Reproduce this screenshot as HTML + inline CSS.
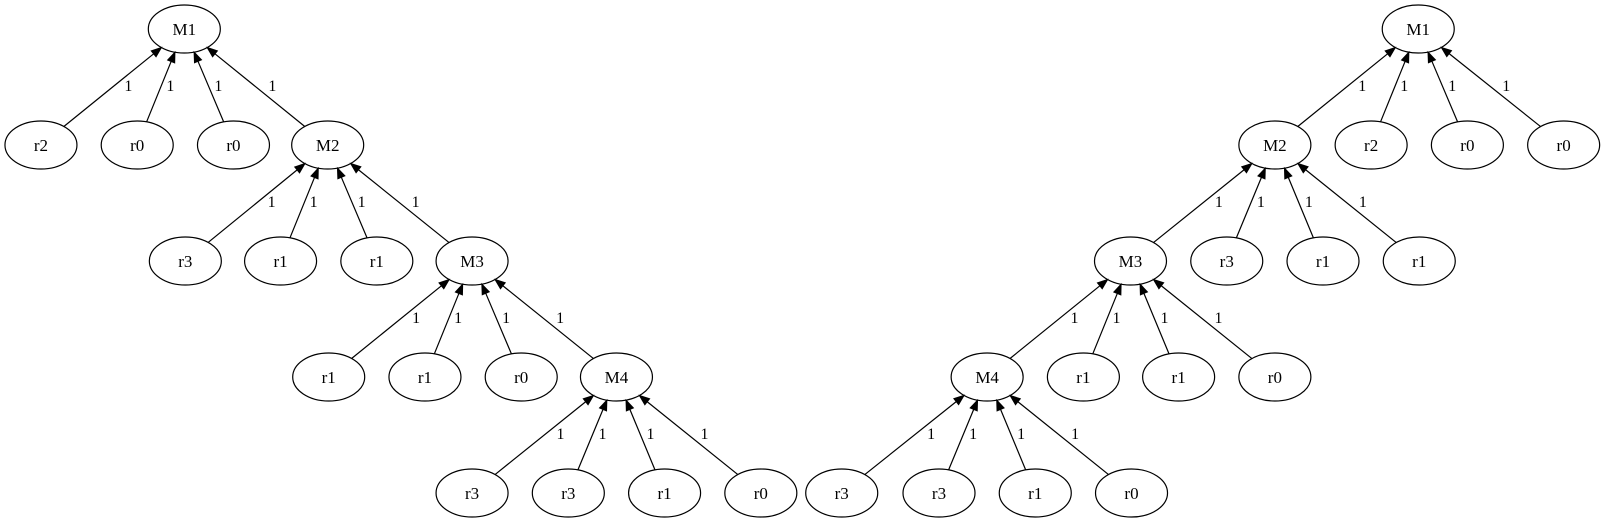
<!DOCTYPE html>
<html><head><meta charset="utf-8"><style>
html,body{margin:0;padding:0;background:#fff;}
svg{display:block}
text{font-family:"Liberation Serif",serif;}
</style></head><body>
<svg id="g" width="1606" height="523" viewBox="0 0 1606 523" xmlns="http://www.w3.org/2000/svg"></svg>
<script>
var s=1.024, RX=36, RY=24;
var ys=[29,145,261,377,493];
function X(v){return v*s;}
var nodes=[];
var L=[
 [0,180,[[40,'r2'],[134,'r0'],[228,'r0'],[320,'M2']],'M1'],
 [1,320,[[181,'r3'],[274,'r1'],[368,'r1'],[461,'M3']]],
 [2,461,[[321,'r1'],[415,'r1'],[509,'r0'],[602,'M4']]],
 [3,602,[[461,'r3'],[555,'r3'],[649,'r1'],[743,'r0']]],
 [0,1385,[[1245,'M2'],[1339,'r2'],[1433,'r0'],[1527,'r0']],'M1'],
 [1,1245,[[1104,'M3'],[1198,'r3'],[1292,'r1'],[1386,'r1']]],
 [2,1104,[[964,'M4'],[1058,'r1'],[1151,'r1'],[1245,'r0']]],
 [3,964,[[822,'r3'],[917,'r3'],[1011,'r1'],[1105,'r0']]]
];
var out='';
var offs=[-56,-14,34,88];
function bpt(cx,cy,tx,ty){var dx=tx-cx,dy=ty-cy;var t=1/Math.sqrt(dx*dx/(RX*RX)+dy*dy/(RY*RY));return [cx+dx*t,cy+dy*t];}
L.forEach(function(r){
 var row=r[0],px=X(r[1]),py=ys[row];
 if(r[3]){nodes.push([px,py,r[3]]);}
 r[2].forEach(function(c,i){
  var cx=X(c[0]),cy=ys[row+1];
  nodes.push([cx,cy,c[1]]);
  var a=bpt(cx,cy,px,py),b=bpt(px,py,cx,cy);
  var dx=b[0]-a[0],dy=b[1]-a[1],len=Math.sqrt(dx*dx+dy*dy),ux=dx/len,uy=dy/len;
  var bx=b[0]-ux*10,by=b[1]-uy*10;
  out+='<line x1="'+a[0]+'" y1="'+a[1]+'" x2="'+bx+'" y2="'+by+'" stroke="#000" stroke-width="1.2"/>';
  var nx=-uy*3.8,ny=ux*3.8;
  out+='<polygon points="'+b[0]+','+b[1]+' '+(bx+nx)+','+(by+ny)+' '+(bx-nx)+','+(by-ny)+'" fill="#000" stroke="#000"/>';
  out+='<text x="'+(px+offs[i])+'" y="'+(py+62)+'" font-size="16" text-anchor="middle">1</text>';
 });
});
nodes.forEach(function(n){
 out+='<ellipse cx="'+n[0]+'" cy="'+n[1]+'" rx="'+RX+'" ry="'+RY+'" fill="none" stroke="#000" stroke-width="1.2"/>';
 out+='<text x="'+n[0]+'" y="'+(n[1]+6)+'" font-size="17" text-anchor="middle">'+n[2]+'</text>';
});
document.getElementById('g').innerHTML=out;
</script>
</body></html>
